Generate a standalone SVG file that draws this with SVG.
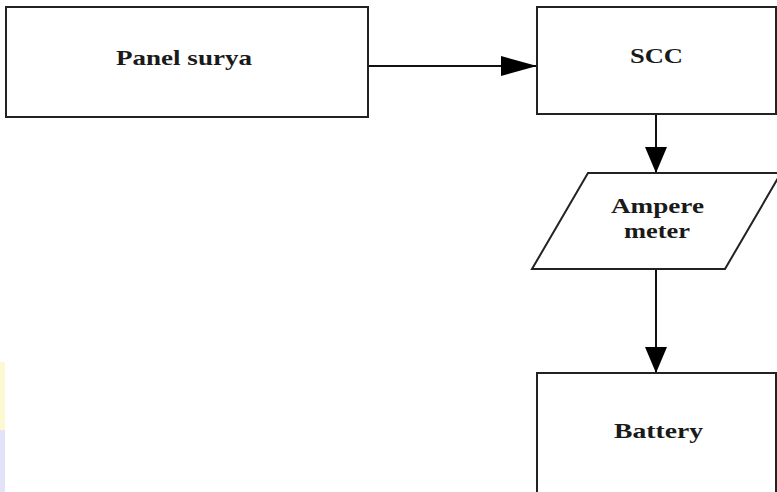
<svg xmlns="http://www.w3.org/2000/svg" width="777" height="492" viewBox="0 0 777 492">
  <style>
    .box { fill: #ffffff; stroke: #222222; stroke-width: 2; }
    .lbl { font-family: "Liberation Serif", "Times New Roman", serif; font-weight: bold; font-size: 22px; fill: #1a1a1a; text-anchor: middle; }
    .edge { stroke: #111111; stroke-width: 2; fill: none; }
  </style>
  <defs>
    <marker id="arrow" viewBox="0 0 36 20" refX="36" refY="10" markerWidth="36" markerHeight="20" markerUnits="userSpaceOnUse" orient="auto">
      <path d="M0,0 L36,10 L0,20 Z" fill="#000000"/>
    </marker>
    <marker id="arrowV" viewBox="0 0 26 22" refX="26" refY="11" markerWidth="26" markerHeight="22" markerUnits="userSpaceOnUse" orient="auto">
      <path d="M0,0 L26,11 L0,22 Z" fill="#000000"/>
    </marker>
  </defs>
  <rect width="777" height="492" fill="#ffffff"/>
  <rect x="0" y="362" width="5" height="70" fill="#fcf8d2"/>
  <rect x="0" y="430" width="5" height="62" fill="#e2e2f8"/>

  <g id="connectors">
    <line class="edge" x1="369" y1="66" x2="537" y2="66" marker-end="url(#arrow)"/>
    <line class="edge" x1="656" y1="114" x2="656" y2="173" marker-end="url(#arrowV)"/>
    <line class="edge" x1="656" y1="269" x2="656" y2="373" marker-end="url(#arrowV)"/>
  </g>

  <g id="panel-surya">
    <rect class="box" x="6" y="7" width="362" height="110"/>
    <text class="lbl" x="184" y="65" textLength="136" lengthAdjust="spacingAndGlyphs">Panel surya</text>
  </g>

  <g id="scc">
    <rect class="box" x="537" y="7" width="239" height="107"/>
    <text class="lbl" x="656.5" y="63" textLength="53" lengthAdjust="spacingAndGlyphs">SCC</text>
  </g>

  <g id="ampere-meter">
    <polygon class="box" points="588,173 781,173 725,269 532,269"/>
    <text class="lbl" x="657.5" y="213" textLength="93" lengthAdjust="spacingAndGlyphs">Ampere</text>
    <text class="lbl" x="657" y="238" textLength="66" lengthAdjust="spacingAndGlyphs">meter</text>
  </g>

  <g id="battery">
    <rect class="box" x="537" y="373" width="239" height="130"/>
    <text class="lbl" x="658.5" y="438" textLength="89" lengthAdjust="spacingAndGlyphs">Battery</text>
  </g>
</svg>
